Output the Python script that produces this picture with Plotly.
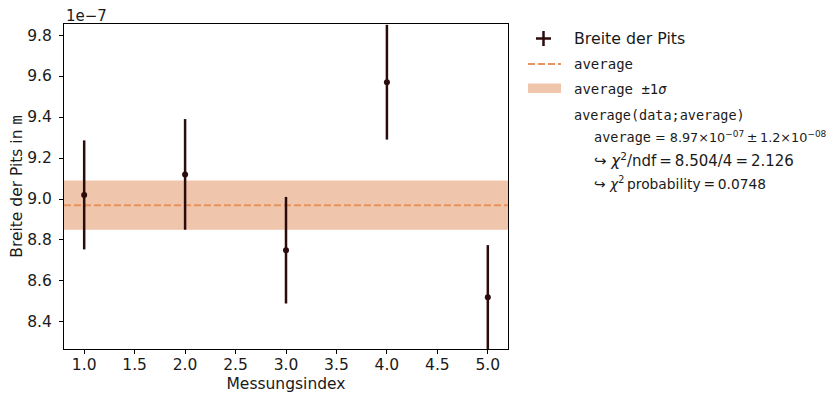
import plotly.graph_objects as go

# ---- data ----
messungsindex = [1, 2, 3, 4, 5]
breite = [9.02e-7, 9.12e-7, 8.75e-7, 9.57e-7, 8.52e-7]
fehler = [2.66e-8, 2.70e-8, 2.60e-8, 2.80e-8, 2.55e-8]
average = 8.97e-7
average_err = 1.2e-8
y_ticks = [8.4e-7, 8.6e-7, 8.8e-7, 9.0e-7, 9.2e-7, 9.4e-7, 9.6e-7, 9.8e-7]
y_ticktext = ["8.4", "8.6", "8.8", "9.0", "9.2", "9.4", "9.6", "9.8"]
x_ticks = [1.0, 1.5, 2.0, 2.5, 3.0, 3.5, 4.0, 4.5, 5.0]
x_ticktext = ["1.0", "1.5", "2.0", "2.5", "3.0", "3.5", "4.0", "4.5", "5.0"]

DARK = "#2b0b0b"
ORANGE = "#e8935e"
BAND = "#efc5ab"
SANS = "DejaVu Sans"
MONO = "DejaVu Sans Mono"
TXT = "#1a1a1a"
OFF = 8  # page body margin

W, H = 832, 391
L, R, T, B = 56, 332, 16, 50
PW, PH = W - L - R, H - T - B


def px(xp):
    return (xp - OFF - L) / PW


def py(yp):
    return (H - B - (yp - OFF)) / PH


fig = go.Figure()

# band and average line
fig.add_shape(type="rect", xref="paper", yref="y", x0=0, x1=1,
              y0=average - average_err, y1=average + average_err,
              fillcolor=BAND, line_width=0, layer="below")
fig.add_shape(type="line", xref="paper", yref="y", x0=0, x1=1,
              y0=average, y1=average,
              line=dict(color=ORANGE, width=2, dash="7px,3px"), layer="below")

fig.add_trace(go.Scatter(
    x=messungsindex, y=breite, mode="markers",
    marker=dict(color=DARK, size=6),
    error_y=dict(type="data", array=fehler, color=DARK, thickness=2.5, width=0),
    showlegend=False, cliponaxis=True))

fig.update_xaxes(range=[0.8, 5.2], tickvals=x_ticks, ticktext=x_ticktext, automargin=False,
                 showgrid=False, zeroline=False, showline=True, mirror=True,
                 linecolor="black", linewidth=1, ticks="outside", ticklen=4,
                 tickcolor="black", tickfont=dict(family=SANS, size=15.5, color=TXT),
                 ticklabelstandoff=-3,
                 title=dict(text="Messungsindex", font=dict(family=SANS, size=15.5, color=TXT),
                            standoff=5))
fig.update_yaxes(range=[8.268e-7, 9.854e-7], tickvals=y_ticks, ticktext=y_ticktext, automargin=False,
                 showgrid=False, zeroline=False, showline=True, mirror=True,
                 linecolor="black", linewidth=1, ticks="outside", ticklen=4,
                 tickcolor="black", tickfont=dict(family=SANS, size=15.5, color=TXT),
                 ticklabelstandoff=4,
                 title=dict(text="Breite der Pits in <span style='font-family:DejaVu Sans Mono'>m</span>",
                            font=dict(family=SANS, size=15.5, color=TXT), standoff=6))

ann = []
ann.append(dict(text="1e\u22127", x=px(64), y=py(27.5), xanchor="left", yanchor="bottom",
                font=dict(family=SANS, size=15, color=TXT)))

# manual legend
fig.add_shape(type="line", xref="paper", yref="paper", x0=px(536), x1=px(551), y0=py(38.5), y1=py(38.5),
              line=dict(color=DARK, width=2.5))
fig.add_shape(type="line", xref="paper", yref="paper", x0=px(543.5), x1=px(543.5), y0=py(31), y1=py(46),
              line=dict(color=DARK, width=2.5))
fig.add_shape(type="line", xref="paper", yref="paper", x0=px(528), x1=px(561), y0=py(64), y1=py(64),
              line=dict(color=ORANGE, width=2, dash="7px,3px"))
fig.add_shape(type="rect", xref="paper", yref="paper", x0=px(528), x1=px(561), y0=py(93), y1=py(83.5),
              fillcolor=BAND, line_width=0)

TS = "\u2009"
ann.append(dict(text="Breite der Pits", x=px(572), y=py(39), xanchor="left", yanchor="middle",
                font=dict(family=SANS, size=15.8, color=TXT)))
ann.append(dict(text="average", x=px(572), y=py(64), xanchor="left", yanchor="middle",
                font=dict(family=MONO, size=14, color=TXT)))
ann.append(dict(text="average \u00b11<i>\u03c3</i>", x=px(572), y=py(89), xanchor="left", yanchor="middle",
                font=dict(family=MONO, size=14, color=TXT)))
ann.append(dict(text="average(data;average)", x=px(572), y=py(115), xanchor="left", yanchor="middle",
                font=dict(family=MONO, size=13.5, color=TXT)))
ann.append(dict(text="<span style='font-family:DejaVu Sans Mono;font-size:13.5px'>average</span> = "
                     "8.97\u00d710<sup>\u221207</sup>" + TS + "\u00b1" + TS + "1.2\u00d710<sup>\u221208</sup>",
                x=px(592), y=py(137), xanchor="left", yanchor="middle",
                font=dict(family=SANS, size=12.8, color=TXT)))
ann.append(dict(text="\u21aa <i>\u03c7</i><sup>2</sup>/ndf" + TS + "=" + TS + "8.504/4" + TS + "=" + TS + "2.126",
                x=px(592), y=py(160), xanchor="left", yanchor="middle",
                font=dict(family=SANS, size=15, color=TXT)))
ann.append(dict(text="\u21aa <i>\u03c7</i><sup>2</sup>" + TS + "probability" + TS + "=" + TS + "0.0748",
                x=px(592), y=py(183), xanchor="left", yanchor="middle",
                font=dict(family=SANS, size=13.8, color=TXT)))
for a in ann:
    a.update(xref="paper", yref="paper", showarrow=False)

fig.update_layout(width=W, height=H, margin=dict(l=L, r=R, t=T, b=B),
                  plot_bgcolor="white", paper_bgcolor="white",
                  annotations=ann, showlegend=False)

fig.write_html("out.html")
